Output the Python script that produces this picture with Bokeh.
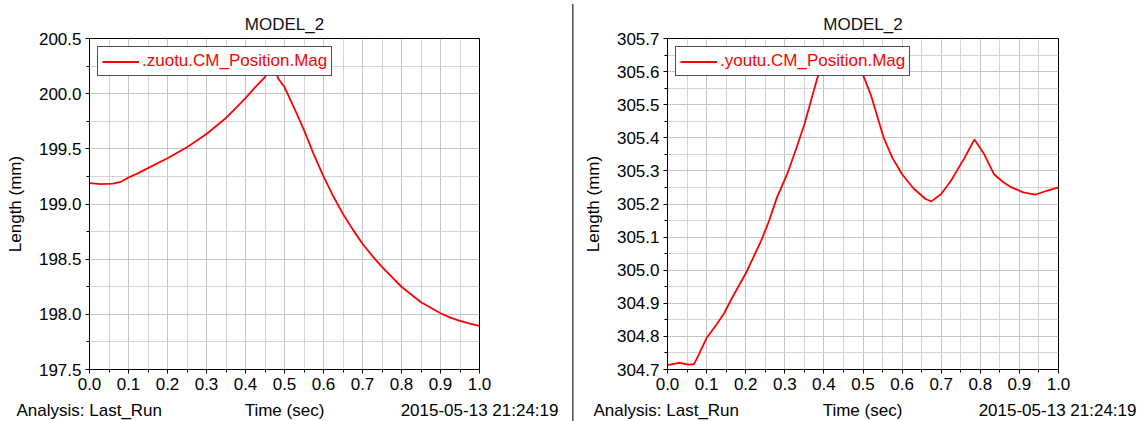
from bokeh.plotting import figure
from bokeh.models import Range1d, FixedTicker, NumeralTickFormatter, Legend, LegendItem, Div
from bokeh.layouts import row, column
from bokeh.core.properties import value
from bokeh.embed import file_html
from bokeh.resources import INLINE

# ---------------- data ----------------
left_time = [0.0, 0.03, 0.06, 0.08, 0.1, 0.125, 0.15, 0.2, 0.25, 0.3, 0.35, 0.375, 0.4, 0.425,
             0.45, 0.465, 0.475, 0.485, 0.5, 0.525, 0.55, 0.575, 0.6, 0.625, 0.65, 0.675, 0.7,
             0.725, 0.75, 0.775, 0.8, 0.825, 0.85, 0.875, 0.9, 0.925, 0.95, 0.975, 1.0]
left_length = [199.19, 199.18, 199.185, 199.2, 199.24, 199.28, 199.325, 199.415, 199.515,
               199.635, 199.78, 199.87, 199.96, 200.06, 200.15, 200.23, 200.22, 200.13, 200.06,
               199.87, 199.67, 199.45, 199.25, 199.07, 198.91, 198.77, 198.64, 198.53, 198.43,
               198.34, 198.25, 198.18, 198.11, 198.06, 198.01, 197.97, 197.94, 197.915, 197.895]

right_time = [0.0, 0.03, 0.055, 0.068, 0.08, 0.1, 0.125, 0.145, 0.165, 0.2, 0.24, 0.26, 0.28,
              0.306, 0.33, 0.35, 0.383, 0.41, 0.44, 0.47, 0.5, 0.52, 0.553, 0.575, 0.6, 0.63,
              0.66, 0.675, 0.7, 0.725, 0.76, 0.785, 0.81, 0.835, 0.86, 0.88, 0.91, 0.94, 0.97,
              1.0]
right_length = [304.713, 304.72, 304.715, 304.716, 304.745, 304.795, 304.835, 304.87, 304.916,
                304.99, 305.09, 305.15, 305.22, 305.29, 305.37, 305.44, 305.58, 305.645, 305.65,
                305.64, 305.59, 305.53, 305.4, 305.34, 305.29, 305.246, 305.215, 305.208,
                305.23, 305.27, 305.34, 305.395, 305.35, 305.29, 305.265, 305.25, 305.235,
                305.228, 305.24, 305.25]

x_ticks = [0.0, 0.1, 0.2, 0.3, 0.4, 0.5, 0.6, 0.7, 0.8, 0.9, 1.0]
x_minor = [0.05, 0.15, 0.25, 0.35, 0.45, 0.55, 0.65, 0.75, 0.85, 0.95]
left_y_ticks = [197.5, 198.0, 198.5, 199.0, 199.5, 200.0, 200.5]
left_y_minor = [197.75, 198.25, 198.75, 199.25, 199.75, 200.25]
right_y_ticks = [304.7, 304.8, 304.9, 305.0, 305.1, 305.2, 305.3, 305.4, 305.5, 305.6, 305.7]
right_y_minor = [304.75, 304.85, 304.95, 305.05, 305.15, 305.25, 305.35, 305.45, 305.55, 305.65]

title_text = "MODEL_2"
x_label = "Time (sec)"
y_label = "Length (mm)"
left_series = ".zuotu.CM_Position.Mag"
right_series = ".youtu.CM_Position.Mag"
analysis_text = "Analysis:  Last_Run"
date_text = "2015-05-13 21:24:19"

FONT = "Liberation Sans"
FS = "17px"


def panel(t, v, y0, y1, yt, ym, series, bl, fw, br):
    p = figure(frame_width=fw, frame_height=331,
               min_border_left=bl, min_border_right=br,
               min_border_top=38, min_border_bottom=29,
               x_range=Range1d(0, 1), y_range=Range1d(y0, y1),
               output_backend="svg", toolbar_location=None, title=title_text)
    p.background_fill_color = "white"
    p.border_fill_color = "white"
    p.outline_line_color = "black"
    p.outline_line_width = 1
    p.outline_line_alpha = 1

    p.title.align = "center"
    p.title.text_font = FONT
    p.title.text_font_size = FS
    p.title.text_font_style = "normal"
    p.title.text_color = "#111111"

    p.xaxis.ticker = FixedTicker(ticks=x_ticks, minor_ticks=x_minor)
    p.yaxis.ticker = FixedTicker(ticks=yt, minor_ticks=ym)
    p.xaxis.formatter = NumeralTickFormatter(format="0.0")
    p.yaxis.formatter = NumeralTickFormatter(format="0.0")
    for ax in (p.xaxis, p.yaxis):
        ax.axis_line_color = "black"
        ax.major_tick_line_color = "black"
        ax.minor_tick_line_color = "black"
        ax.major_tick_out = 4
        ax.major_tick_in = 0
        ax.minor_tick_out = 3
        ax.minor_tick_in = 0
        ax.major_label_standoff = 4
        ax.major_label_text_font = FONT
        ax.major_label_text_font_size = FS
        ax.major_label_text_color = "black"
        ax.axis_label_text_font = FONT
        ax.axis_label_text_font_size = FS
        ax.axis_label_text_font_style = "normal"
        ax.axis_label_text_color = "black"
    p.yaxis.axis_label = y_label
    p.yaxis.axis_label_standoff = 11

    for g in (p.xgrid, p.ygrid):
        g.grid_line_color = "#c4c4c4"
        g.grid_line_alpha = 1
        g.minor_grid_line_color = "#d4d4d4"
        g.minor_grid_line_alpha = 1

    r = p.line(t, v, color="red", line_width=1.8)

    legend = Legend(items=[LegendItem(label=series, renderers=[r])],
                    location=(8, 293), margin=0, padding=4, spacing=0,
                    glyph_width=37, glyph_height=19, label_height=19, label_standoff=3,
                    label_text_font=FONT, label_text_font_size=FS, label_text_color="red",
                    border_line_color="#505050", border_line_width=1, border_line_alpha=1,
                    background_fill_color="white", background_fill_alpha=1)
    p.add_layout(legend)
    return p


def footer(width, x_analysis, x_time, x_date):
    f = figure(width=width, height=23, x_range=Range1d(0, width), y_range=Range1d(0, 23),
               x_axis_location=None, y_axis_location=None, min_border=0,
               output_backend="svg", toolbar_location=None, title=None)
    f.frame_align = False
    f.grid.visible = False
    f.outline_line_color = None
    f.background_fill_color = "white"
    f.border_fill_color = "white"
    f.text(x=[x_analysis], y=[11.5], text=[analysis_text], text_align="left",
           text_baseline="middle", text_font=value(FONT), text_font_size=FS, text_color="black")
    f.text(x=[x_time], y=[11.5], text=[x_label], text_align="center",
           text_baseline="middle", text_font=value(FONT), text_font_size=FS, text_color="black")
    f.text(x=[x_date], y=[11.5], text=[date_text], text_align="right",
           text_baseline="middle", text_font=value(FONT), text_font_size=FS, text_color="black")
    return f


p1 = panel(left_time, left_length, 197.5, 200.5, left_y_ticks, left_y_minor, left_series, 89, 390, 93)
p2 = panel(right_time, right_length, 304.7, 305.7, right_y_ticks, right_y_minor, right_series, 93, 391, 84)
f1 = footer(572, 16, 284, 558)
f2 = footer(568, 19, 288, 562)

divider = Div(width=2, height=417, margin=(4, 0, 0, 0),
              styles={"border-left": "1px solid #555555", "background-color": "#f08080",
                      "box-sizing": "border-box"})

layout = row(column(p1, f1, spacing=0), divider, column(p2, f2, spacing=0), spacing=0)

open("out.html", "w").write(file_html(layout, INLINE))
